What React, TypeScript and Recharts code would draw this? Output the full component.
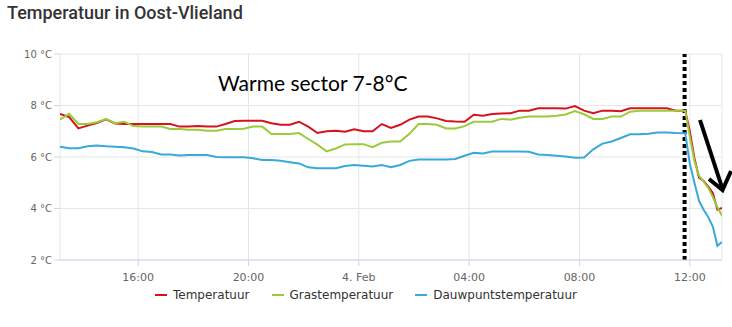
import React from "react";
import { LineChart, Line, XAxis, YAxis, CartesianGrid, ReferenceLine } from "recharts";

// 3 -> 4 feb, 20 min readings, 10 min during the drop after 12:00
const times = [
  "13:10", "13:30", "13:50", "14:10", "14:30", "14:50", "15:10", "15:30", "15:50", "16:10",
  "16:30", "16:50", "17:10", "17:30", "17:50", "18:10", "18:30", "18:50", "19:10", "19:30",
  "19:50", "20:10", "20:30", "20:50", "21:10", "21:30", "21:50", "22:10", "22:30", "22:50",
  "23:10", "23:30", "23:50", "00:10", "00:30", "00:50", "01:10", "01:30", "01:50", "02:10",
  "02:30", "02:50", "03:10", "03:30", "03:50", "04:10", "04:30", "04:50", "05:10", "05:30",
  "05:50", "06:10", "06:30", "06:50", "07:10", "07:30", "07:50", "08:10", "08:30", "08:50",
  "09:10", "09:30", "09:50", "10:10", "10:30", "10:50", "11:10", "11:30", "11:50",
  "12:00", "12:10", "12:20", "12:30", "12:40", "12:50", "13:00", "13:10",
];

const temperatuur = [
  7.67, 7.55, 7.11, 7.22, 7.32, 7.46, 7.3, 7.28, 7.28, 7.28,
  7.28, 7.28, 7.28, 7.18, 7.18, 7.2, 7.18, 7.18, 7.28, 7.4,
  7.41, 7.41, 7.41, 7.31, 7.25, 7.25, 7.37, 7.18, 6.93, 7.0,
  7.02, 6.98, 7.08, 7.0, 7.0, 7.28, 7.13, 7.25, 7.45, 7.57,
  7.57, 7.5, 7.4, 7.38, 7.37, 7.64, 7.6, 7.67, 7.69, 7.7,
  7.8, 7.8, 7.89, 7.89, 7.89, 7.88, 7.98, 7.8, 7.7, 7.8,
  7.8, 7.78, 7.89, 7.89, 7.89, 7.89, 7.89, 7.8, 7.8,
  7.0, 5.95, 5.2, 5.07, 4.85, 4.6, 3.95, 4.02,
];

const grastemperatuur = [
  7.45, 7.68, 7.28, 7.28, 7.35, 7.47, 7.31, 7.37, 7.2, 7.18,
  7.18, 7.18, 7.09, 7.09, 7.06, 7.06, 7.02, 7.02, 7.09, 7.09,
  7.1, 7.18, 7.18, 6.89, 6.89, 6.89, 6.93, 6.7, 6.48, 6.22,
  6.33, 6.49, 6.5, 6.5, 6.38, 6.55, 6.6, 6.6, 6.9, 7.28,
  7.28, 7.25, 7.11, 7.11, 7.2, 7.37, 7.37, 7.37, 7.48, 7.45,
  7.52, 7.57, 7.57, 7.57, 7.6, 7.65, 7.78, 7.66, 7.48, 7.48,
  7.57, 7.57, 7.76, 7.8, 7.8, 7.8, 7.8, 7.8, 7.8,
  6.8, 5.85, 5.27, 5.04, 4.8, 4.45, 4.05, 3.72,
];

const dauwpunt = [
  6.4, 6.34, 6.34, 6.42, 6.45, 6.42, 6.4, 6.38, 6.33, 6.22,
  6.19, 6.1, 6.1, 6.06, 6.08, 6.08, 6.08, 6.0, 5.99, 5.99,
  5.99, 5.95, 5.88, 5.88, 5.85, 5.8, 5.75, 5.6, 5.56, 5.56,
  5.56, 5.65, 5.69, 5.66, 5.63, 5.69, 5.6, 5.69, 5.85, 5.9,
  5.9, 5.9, 5.9, 5.92, 6.05, 6.16, 6.14, 6.21, 6.21, 6.21,
  6.21, 6.2, 6.1, 6.08, 6.05, 6.02, 5.97, 5.98, 6.3, 6.52,
  6.6, 6.74, 6.88, 6.88, 6.9, 6.95, 6.95, 6.93, 6.92,
  5.75, 5.0, 4.3, 3.95, 3.67, 3.3, 2.55, 2.7,
];

const xTicks = [16, 20, 24, 28, 32, 36];
const yTicks = [2, 4, 6, 8, 10];

const series = [
  { key: "temp", name: "Temperatuur", color: "#d5121e" },
  { key: "gras", name: "Grastemperatuur", color: "#9acb3a" },
  { key: "dauw", name: "Dauwpuntstemperatuur", color: "#38a9d9" },
];

// hours since 3 feb 00:00, rolling over midnight
function toHours(list: string[]) {
  let day = 0;
  let prev = -1;
  return list.map((s) => {
    const [h, m] = s.split(":").map(Number);
    const v = h + m / 60;
    if (v < prev) day += 24;
    prev = v;
    return v + day;
  });
}

const hours = toHours(times);
const data = hours.map((t, i) => ({
  t,
  temp: temperatuur[i],
  gras: grastemperatuur[i],
  dauw: dauwpunt[i],
}));

const fmtX = (v: number) => (v === 24 ? "4. Feb" : `${String(v % 24).padStart(2, "0")}:00`);

const axisFont = "'DejaVu Sans', Verdana, sans-serif";

function LegendBox() {
  return (
    <div
      style={{
        position: "absolute",
        left: 0,
        top: 288,
        width: 732,
        display: "flex",
        justifyContent: "center",
        gap: 22,
        fontFamily: axisFont,
        fontSize: 12,
        color: "#333",
      }}
    >
      {series.map((s) => (
        <div key={s.key} style={{ display: "flex", alignItems: "center" }}>
          <span style={{ display: "inline-block", width: 12, height: 2, background: s.color, marginRight: 6 }} />
          {s.name}
        </div>
      ))}
    </div>
  );
}

export default function App() {
  return (
    <div style={{ position: "absolute", left: 0, top: 0, width: 732, height: 327, background: "#fff", overflow: "hidden" }}>
      <div
        style={{
          position: "absolute",
          left: 7,
          top: 2,
          fontFamily: "Roboto, sans-serif",
          fontWeight: 500,
          fontSize: 18,
          color: "#333",
          whiteSpace: "nowrap",
        }}
      >
        Temperatuur in Oost-Vlieland
      </div>

      <LineChart width={732} height={327} data={data} margin={{ top: 54, right: 10, bottom: 37, left: 0 }}>
        <CartesianGrid stroke="#e6e6e6" />
        <XAxis
          dataKey="t"
          type="number"
          domain={[13 + 1 / 6, 37 + 1 / 6]}
          ticks={xTicks}
          tickFormatter={fmtX}
          allowDataOverflow
          height={30}
          stroke="#ccd6eb"
          tickSize={6}
          tickMargin={7}
          tick={{ fill: "#666", fontSize: 11, fontFamily: axisFont }}
        />
        <YAxis
          type="number"
          domain={[2, 10]}
          ticks={yTicks}
          width={60}
          axisLine={false}
          tickLine={{ stroke: "#ccd6eb" }}
          tickSize={6}
          tickMargin={2}
          tickFormatter={(v: number) => `${v} °C`}
          tick={{ fill: "#666", fontSize: 10, fontFamily: axisFont }}
        />
        <ReferenceLine x={35.81} stroke="#000" strokeWidth={4} strokeDasharray="4 3" ifOverflow="extendDomain" />
        {series.map((s) => (
          <Line
            key={s.key}
            type="linear"
            dataKey={s.key}
            name={s.name}
            stroke={s.color}
            strokeWidth={2}
            dot={false}
            isAnimationActive={false}
          />
        ))}
      </LineChart>

      <LegendBox />

      <div
        style={{
          position: "absolute",
          left: 218,
          top: 70,
          fontFamily: "Lato, sans-serif",
          fontSize: 21,
          color: "#000",
          whiteSpace: "nowrap",
        }}
      >
        Warme sector 7-8°C
      </div>

      <svg width={732} height={327} style={{ position: "absolute", left: 0, top: 0, pointerEvents: "none" }}>
        <line x1={700} y1={120} x2={722.5} y2={189} stroke="#000" strokeWidth={4} />
        <polyline points="709,179 722.5,190 731,171" fill="none" stroke="#000" strokeWidth={4} />
      </svg>
    </div>
  );
}
